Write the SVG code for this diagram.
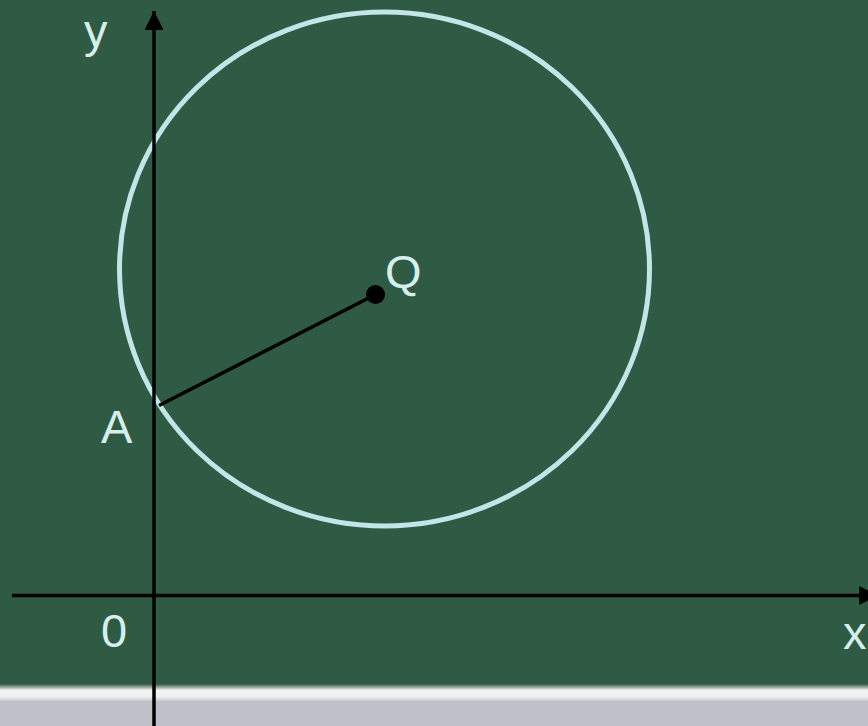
<svg xmlns="http://www.w3.org/2000/svg" width="868" height="726" viewBox="0 0 868 726">
  <defs>
    <linearGradient id="band" x1="0" y1="0" x2="0" y2="1">
      <stop offset="0" stop-color="#2f5b44"/>
      <stop offset="0.15" stop-color="#8a9a92"/>
      <stop offset="0.35" stop-color="#f4f6f4"/>
      <stop offset="0.7" stop-color="#eef0f0"/>
      <stop offset="1" stop-color="#bfc0c8"/>
    </linearGradient>
    <marker id="arrow" viewBox="0 0 10 10" refX="10" refY="5" markerWidth="7.4" markerHeight="5.4" markerUnits="strokeWidth" orient="auto">
      <path d="M0,0 L10,5 L0,10 Z" fill="#000"/>
    </marker>
    <style>
      .lbl { font-family: "Liberation Sans", Arial, sans-serif; font-size: 47px; fill: #d6eeec; }
      .axis { stroke: #000; stroke-width: 3.5; fill: none; }
    </style>
  </defs>
  <rect x="0" y="0" width="868" height="686" fill="#2f5b44"/>
  <rect x="0" y="684" width="868" height="18" fill="url(#band)"/>
  <rect x="0" y="701" width="868" height="25" fill="#bfc0c8"/>

  <g id="circle">
    <ellipse cx="384.5" cy="269" rx="265" ry="257" fill="none" stroke="#c2e5e7" stroke-width="5"/>
  </g>

  <g id="connectors">
    <line class="axis" x1="154" y1="726" x2="154" y2="11" marker-end="url(#arrow)"/>
    <line class="axis" x1="12" y1="595.5" x2="878" y2="595.5" marker-end="url(#arrow)"/>
    <line x1="375.5" y1="294.5" x2="159" y2="405.5" stroke="#000" stroke-width="3.6"/>
  </g>

  <g id="Q">
    <circle cx="375.5" cy="294.5" r="9.5" fill="#000"/>
    <text class="lbl" x="385" y="288">Q</text>
  </g>
  <g id="A">
    <text class="lbl" x="101" y="443">A</text>
  </g>
  <g id="labels">
    <text class="lbl" x="84" y="47">y</text>
    <text class="lbl" x="101" y="647">0</text>
    <text class="lbl" x="843" y="649">x</text>
  </g>
</svg>
